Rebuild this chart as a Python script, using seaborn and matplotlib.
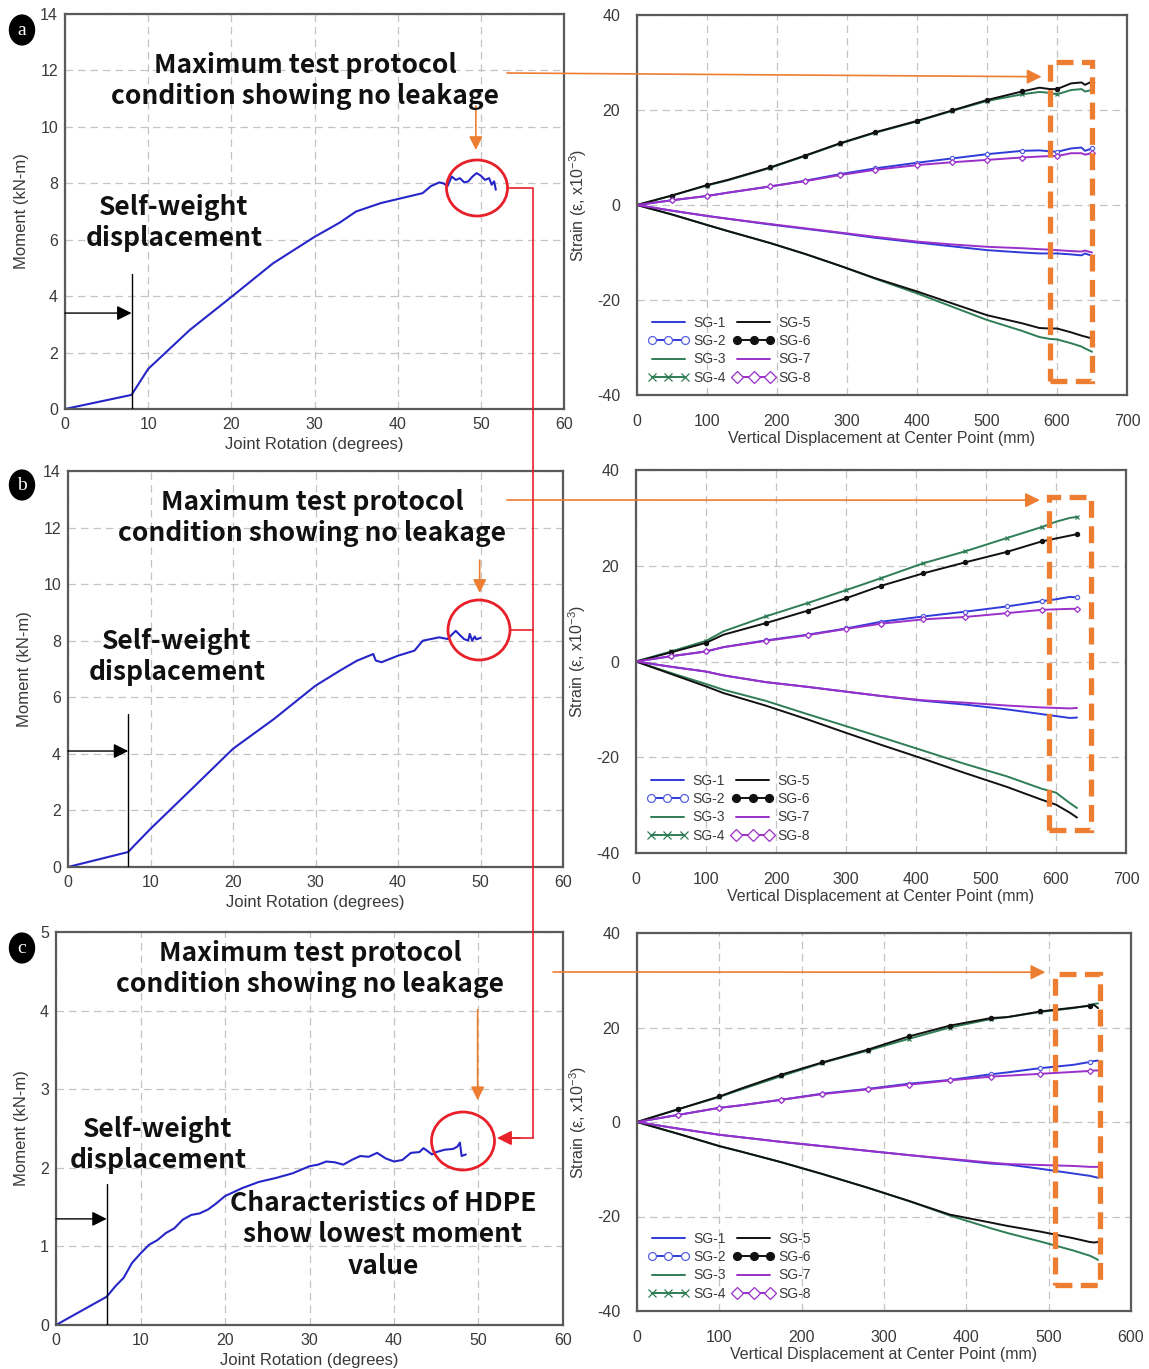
import numpy as np
import pandas as pd
import matplotlib
matplotlib.use("Agg")
import matplotlib.pyplot as plt
import seaborn as sns
from matplotlib.patches import Ellipse, Rectangle, Circle
from matplotlib.lines import Line2D
from matplotlib.ticker import MultipleLocator

# ------------------------------------------------------------------ data
# Left panels: moment vs joint rotation
A_ROT = [0, 8, 10, 15, 20, 25, 30, 33, 35, 38, 40, 43, 44, 45, 45.5, 46, 46.5, 47, 47.5, 48, 48.5, 49, 49.5, 50, 50.5, 51, 51.3, 51.6, 51.8]
A_MOM = [0, 0.5, 1.42, 2.8, 3.97, 5.16, 6.1, 6.6, 7.0, 7.3, 7.44, 7.65, 7.9, 8.03, 8.0, 7.9, 8.24, 8.12, 8.18, 8.03, 8.07, 8.24, 8.36, 8.27, 8.12, 8.18, 7.95, 8.07, 7.77]

B_ROT = [0, 7.3, 8, 10, 15, 20, 25, 30, 33, 35, 37, 37.3, 38, 40, 42, 43, 45, 46, 47, 47.5, 48, 48.5, 48.7, 49, 49.3, 49.5, 50]
B_MOM = [0, 0.53, 0.75, 1.35, 2.76, 4.18, 5.24, 6.41, 6.95, 7.29, 7.53, 7.3, 7.24, 7.47, 7.65, 8.0, 8.12, 8.06, 8.35, 8.2, 8.06, 8.0, 8.24, 8.0, 8.15, 8.05, 8.1]

C_ROT = [0, 6, 7, 8, 9, 10, 11, 12, 13, 14, 15, 16, 17, 18, 19, 20, 22, 24, 26, 28, 30, 31, 32, 33, 34, 35, 36, 37, 38, 39, 40, 41, 42, 43, 43.5, 44.5, 45, 46, 47, 47.5, 47.8, 48, 48.5]
C_MOM = [0, 0.36, 0.49, 0.6, 0.79, 0.91, 1.02, 1.08, 1.17, 1.23, 1.34, 1.4, 1.42, 1.47, 1.55, 1.64, 1.74, 1.82, 1.87, 1.93, 2.02, 2.04, 2.08, 2.07, 2.04, 2.1, 2.15, 2.14, 2.19, 2.12, 2.08, 2.1, 2.19, 2.2, 2.25, 2.17, 2.2, 2.23, 2.24, 2.27, 2.32, 2.15, 2.17]

# Right panels: strain vs vertical displacement
A_DISP = [0, 50, 100, 130, 190, 240, 290, 340, 400, 450, 500, 550, 575, 590, 600, 620, 635, 640, 650]
A_SG1 = [0, -1.2, -2.3, -2.9, -4.1, -5.0, -5.9, -6.9, -7.9, -8.7, -9.5, -10.0, -10.2, -10.2, -10.2, -10.4, -10.6, -10.2, -10.7]
A_SG2 = [0, 1.0, 1.9, 2.6, 3.9, 5.1, 6.5, 7.7, 8.9, 9.8, 10.7, 11.4, 11.5, 11.3, 11.2, 11.9, 12.1, 11.4, 11.9]
A_SG3 = [0, -2.0, -4.2, -5.5, -8.0, -10.3, -12.8, -15.5, -18.6, -21.4, -24.2, -26.5, -27.8, -28.2, -28.3, -29.1, -29.8, -30.2, -30.9]
A_SG4 = [0, 2.0, 4.1, 5.2, 7.8, 10.3, 12.9, 15.2, 17.6, 19.8, 21.9, 23.3, 23.8, 23.6, 23.3, 24.2, 24.4, 23.9, 24.2]
A_SG5 = [0, -2.0, -4.2, -5.5, -8.0, -10.3, -12.8, -15.4, -18.2, -20.7, -23.2, -24.9, -25.9, -26.0, -26.0, -26.8, -27.5, -27.7, -28.1]
A_SG6 = [0, 2.0, 4.2, 5.3, 7.9, 10.4, 13.0, 15.3, 17.7, 19.9, 22.1, 23.9, 24.7, 24.4, 24.4, 25.6, 25.8, 25.3, 26.0]
A_SG7 = [0, -1.2, -2.3, -2.9, -4.0, -4.9, -5.8, -6.7, -7.7, -8.3, -8.8, -9.1, -9.3, -9.4, -9.5, -9.7, -9.8, -9.6, -10.0]
A_SG8 = [0, 1.0, 1.9, 2.6, 3.9, 5.0, 6.3, 7.4, 8.4, 9.0, 9.5, 10.0, 10.2, 10.3, 10.3, 10.9, 10.9, 10.6, 10.9]

B_DISP = [0, 50, 100, 125, 185, 245, 300, 350, 410, 470, 530, 580, 600, 620, 630]
B_SG1 = [0, -1.1, -2.1, -2.9, -4.3, -5.3, -6.3, -7.2, -8.2, -9.0, -10.0, -11.0, -11.4, -11.8, -11.7]
B_SG2 = [0, 1.1, 2.1, 3.0, 4.4, 5.6, 6.9, 8.3, 9.4, 10.4, 11.5, 12.6, 13.0, 13.5, 13.4]
B_SG3 = [0, -2.4, -4.7, -5.9, -8.2, -11.0, -13.5, -15.8, -18.6, -21.4, -24.0, -26.6, -27.4, -29.6, -30.6]
B_SG4 = [0, 2.1, 4.3, 6.3, 9.4, 12.2, 14.9, 17.4, 20.5, 23.0, 25.8, 28.1, 29.2, 30.0, 30.2]
B_SG5 = [0, -2.6, -5.2, -6.6, -9.2, -12.1, -14.9, -17.4, -20.3, -23.3, -26.2, -28.9, -29.9, -31.6, -32.6]
B_SG6 = [0, 1.9, 3.9, 5.6, 8.0, 10.6, 13.2, 15.8, 18.4, 20.7, 22.9, 25.1, 25.7, 26.3, 26.6]
B_SG7 = [0, -1.1, -2.1, -2.9, -4.3, -5.3, -6.3, -7.2, -8.1, -8.6, -9.2, -9.6, -9.7, -9.8, -9.7]
B_SG8 = [0, 1.1, 2.1, 3.0, 4.3, 5.5, 6.8, 7.9, 8.8, 9.3, 10.1, 10.8, 10.9, 11.0, 11.0]

C_DISP = [0, 50, 100, 125, 175, 225, 280, 330, 380, 430, 450, 490, 530, 550, 555, 560]
C_SG1 = [0, -1.4, -2.7, -3.2, -4.2, -5.1, -6.1, -7.0, -7.9, -8.8, -9.0, -9.9, -10.9, -11.4, -11.6, -11.8]
C_SG2 = [0, 1.5, 3.0, 3.5, 4.7, 6.0, 7.0, 8.1, 8.9, 10.1, 10.5, 11.4, 12.1, 12.7, 12.9, 13.0]
C_SG3 = [0, -2.5, -5.1, -6.2, -8.5, -11.0, -13.9, -16.7, -19.8, -22.5, -23.5, -25.3, -27.2, -28.3, -28.7, -29.2]
C_SG4 = [0, 2.7, 5.3, 6.8, 9.7, 12.5, 15.1, 17.6, 20.0, 21.8, 22.2, 23.3, 24.1, 24.7, 25.0, 25.1]
C_SG5 = [0, -2.5, -5.1, -6.2, -8.5, -11.0, -13.9, -16.7, -19.6, -21.3, -22.0, -23.2, -24.6, -25.4, -25.5, -25.4]
C_SG6 = [0, 2.7, 5.4, 7.0, 10.0, 12.6, 15.3, 18.1, 20.4, 22.0, 22.2, 23.4, 24.2, 24.6, 24.8, 24.1]
C_SG7 = [0, -1.4, -2.7, -3.2, -4.2, -5.1, -6.1, -7.0, -7.8, -8.6, -8.9, -9.1, -9.3, -9.5, -9.5, -9.5]
C_SG8 = [0, 1.5, 3.0, 3.5, 4.7, 5.9, 6.9, 7.9, 8.8, 9.6, 9.8, 10.2, 10.6, 10.8, 10.9, 10.9]

SG_LABELS = ["SG-1", "SG-2", "SG-3", "SG-4", "SG-5", "SG-6", "SG-7", "SG-8"]

ANNOT_MAX = "Maximum test protocol\ncondition showing no leakage"
ANNOT_SELF = "Self-weight\ndisplacement"
ANNOT_HDPE = "Characteristics of HDPE\nshow lowest moment\nvalue"

# ------------------------------------------------------------------ style
sns.set_theme(style="white")
plt.rcParams["font.family"] = ["Liberation Sans", "DejaVu Sans"]
plt.rcParams["axes.unicode_minus"] = False
plt.rcParams["mathtext.fontset"] = "custom"
plt.rcParams["mathtext.rm"] = "Liberation Sans"
plt.rcParams["mathtext.it"] = "Liberation Sans:italic"

W, H = 1149, 1369
fig = plt.figure(figsize=(W / 100, H / 100), dpi=100)
fig.patch.set_facecolor("white")

TXT = "#3a3a3a"
SPINE = "#5a5a5a"
GRID = "#c4c4c4"
ORANGE = "#ED7D31"
RED = "#E8202A"
LBLUE = "#2626C8"
BLUE = "#2F3BD8"
GREEN = "#2E7D55"
BLACK = "#111111"
PURPLE = "#9A2FC9"
BOLD_FONT = ["Noto Sans CJK KR", "Noto Sans", "DejaVu Sans"]


def fx(px):
    return px / W


def fy(py):
    return 1 - py / H


def add_axes_px(left, top, right, bottom):
    return fig.add_axes([fx(left), fy(bottom), (right - left) / W, (bottom - top) / H])


def style_axes(ax, tick_dir):
    for s in ax.spines.values():
        s.set_color(SPINE)
        s.set_linewidth(1.6)
        s.set_visible(True)
    ax.tick_params(which="both", direction=tick_dir, colors=SPINE, labelcolor=TXT,
                   labelsize=11.5, width=1.0)
    ax.tick_params(which="major", length=6)
    ax.tick_params(which="minor", length=4)
    ax.grid(True, which="major", linestyle=(0, (6, 4)), color=GRID, linewidth=0.9)
    ax.set_axisbelow(True)
    ax.set_facecolor("white")


# ------------------------------------------------------------------ left panels
def moment_panel(box, rot, mom, ymax, ymajor, yminor, sw_x, sw_top, sw_arrow_y):
    ax = add_axes_px(*box)
    sns.lineplot(x=rot, y=mom, ax=ax, color=LBLUE, linewidth=1.5, sort=False, estimator=None)
    ax.set_xlim(0, 60)
    ax.set_ylim(0, ymax)
    ax.xaxis.set_major_locator(MultipleLocator(10))
    ax.xaxis.set_minor_locator(MultipleLocator(5))
    ax.yaxis.set_major_locator(MultipleLocator(ymajor))
    ax.yaxis.set_minor_locator(MultipleLocator(yminor))
    style_axes(ax, "in")
    ax.tick_params(axis="x", which="major", pad=6)
    ax.tick_params(axis="y", which="major", pad=5)
    ax.set_xlabel("Joint Rotation (degrees)", fontsize=12, color=TXT, labelpad=3)
    ax.set_ylabel("Moment (kN-m)", fontsize=12, color=TXT, labelpad=8)
    # self-weight marker
    ax.plot([sw_x, sw_x], [0, sw_top], color="black", lw=1.0, zorder=4)
    ax.annotate("", xy=(sw_x, sw_arrow_y), xytext=(0, sw_arrow_y),
                arrowprops=dict(arrowstyle="-|>", color="black", lw=1.0, mutation_scale=22,
                                shrinkA=0, shrinkB=0),
                zorder=5)
    return ax


axA = moment_panel((65, 14, 564, 409), A_ROT, A_MOM, 14, 2, 1, 8.0, 4.8, 3.4)
axB = moment_panel((68, 471, 563, 867), B_ROT, B_MOM, 14, 2, 1, 7.3, 5.4, 4.1)
axC = moment_panel((56, 932, 563, 1325), C_ROT, C_MOM, 5, 1, 0.5, 6.0, 1.8, 1.35)

# ------------------------------------------------------------------ right panels
SERIES_STYLE = [
    dict(color=BLUE, marker=None),
    dict(color=BLUE, marker="o", mfc="white", mec="#5560E0"),
    dict(color=GREEN, marker=None),
    dict(color=GREEN, marker="x", mec=GREEN),
    dict(color=BLACK, marker=None),
    dict(color=BLACK, marker="o", mfc=BLACK, mec=BLACK),
    dict(color=PURPLE, marker=None),
    dict(color=PURPLE, marker="D", mfc="white", mec=PURPLE),
]


def sparse_idx(xs, gap=45):
    idx, last = [], -1e9
    for i, v in enumerate(xs):
        if v - last >= gap and v > 0:
            idx.append(i)
            last = v
    return idx


def strain_panel(box, disp, series, xmax):
    ax = add_axes_px(*box)
    for lab, ys, st in zip(SG_LABELS, series, SERIES_STYLE):
        kw = dict(color=st["color"], linewidth=1.4, label=lab, sort=False, estimator=None)
        if st["marker"]:
            kw.update(marker=st["marker"], markersize=3.0, markevery=sparse_idx(disp),
                      markerfacecolor=st.get("mfc", st["color"]),
                      markeredgecolor=st.get("mec", st["color"]), markeredgewidth=0.9)
        sns.lineplot(x=disp, y=ys, ax=ax, **kw)
    ax.set_xlim(0, xmax)
    ax.set_ylim(-40, 40)
    ax.xaxis.set_major_locator(MultipleLocator(100))
    ax.yaxis.set_major_locator(MultipleLocator(20))
    ax.yaxis.set_minor_locator(MultipleLocator(10))
    style_axes(ax, "out")
    ax.tick_params(axis="x", which="major", pad=14, length=0)
    ax.tick_params(axis="y", which="major", pad=6)
    ax.set_xlabel("Vertical Displacement at Center Point (mm)", fontsize=11.5, color=TXT, labelpad=1)
    ax.set_ylabel("Strain (ε, x10$^{-3}$)", fontsize=11.5, color=TXT, labelpad=6)
    handles, labels = ax.get_legend_handles_labels()
    leg = ax.legend(handles, labels, loc="lower left", ncol=2, frameon=False, fontsize=10,
                    handlelength=3.0, handletextpad=0.3, columnspacing=0.5, labelspacing=0.3,
                    numpoints=3, borderaxespad=0.35, markerscale=1.9)
    for t in leg.get_texts():
        t.set_color(TXT)
    return ax


axAR = strain_panel((637, 15, 1127, 395), A_DISP,
                    [A_SG1, A_SG2, A_SG3, A_SG4, A_SG5, A_SG6, A_SG7, A_SG8], 700)
axBR = strain_panel((636, 470, 1126, 853), B_DISP,
                    [B_SG1, B_SG2, B_SG3, B_SG4, B_SG5, B_SG6, B_SG7, B_SG8], 700)
axCR = strain_panel((637, 933, 1131, 1311), C_DISP,
                    [C_SG1, C_SG2, C_SG3, C_SG4, C_SG5, C_SG6, C_SG7, C_SG8], 600)

# orange dashed boxes (data coordinates of the strain panels)
for ax, (x0, x1, y0, y1) in [(axAR, (590, 650, -37.0, 30.1)),
                             (axBR, (590, 650, -35.2, 34.4)),
                             (axCR, (508, 562, -34.5, 31.3))]:
    ax.add_patch(Rectangle((x0, y0), x1 - x0, y1 - y0, fill=False, edgecolor=ORANGE,
                           linewidth=3.8, linestyle=(0, (3.2, 1.6)), clip_on=False, zorder=6))

# ------------------------------------------------------------------ annotations
for (cx, cy), txt in [((305, 81), ANNOT_MAX), ((312, 518), ANNOT_MAX), ((310, 969), ANNOT_MAX)]:
    fig.text(fx(cx), fy(cy), txt, ha="center", va="center", fontsize=19, fontweight="bold",
             family=BOLD_FONT, color="#111111", linespacing=1.22)
for (cx, cy) in [(174, 223), (177, 657), (158, 1145)]:
    fig.text(fx(cx), fy(cy), ANNOT_SELF, ha="center", va="center", fontsize=19, fontweight="bold",
             family=BOLD_FONT, color="#111111", linespacing=1.18)
fig.text(fx(383), fy(1235), ANNOT_HDPE, ha="center", va="center", fontsize=19, fontweight="bold",
         family=BOLD_FONT, color="#111111", linespacing=1.2)

# orange arrows from text to strain boxes
for (sx, sy), ax, tip in [((507, 73), axAR, (578, 27.0)),
                          ((507, 500), axBR, (577, 33.7)),
                          ((553, 972), axCR, (496, 31.7))]:
    ax.annotate("", xy=tip, xycoords="data", xytext=(fx(sx), fy(sy)), textcoords="figure fraction",
                arrowprops=dict(arrowstyle="-|>", color=ORANGE, lw=1.2, mutation_scale=22,
                                shrinkA=0, shrinkB=0), annotation_clip=False, zorder=7)

# short orange down arrows in moment panels
for ax, x, y0, y1 in [(axA, 49.4, 10.74, 9.18), (axB, 49.9, 10.85, 9.69), (axC, 49.9, 4.01, 2.86)]:
    ax.annotate("", xy=(x, y1), xytext=(x, y0),
                arrowprops=dict(arrowstyle="-|>", color=ORANGE, lw=1.2, mutation_scale=20,
                                shrinkA=0, shrinkB=0), zorder=7)

# red circles
for (cx, cy, w, h) in [(477, 188, 61, 56), (479, 630, 62, 60), (463, 1141, 63, 58)]:
    fig.add_artist(Ellipse((fx(cx), fy(cy)), w / W, h / H, transform=fig.transFigure,
                           fill=False, edgecolor=RED, linewidth=2.0, zorder=8))

# red connector
fig.add_artist(Line2D([fx(508), fx(533), fx(533)], [fy(188), fy(188), fy(1138)],
                      transform=fig.transFigure, color=RED, lw=1.2, zorder=8))
fig.add_artist(Line2D([fx(510), fx(533)], [fy(630), fy(630)],
                      transform=fig.transFigure, color=RED, lw=1.2, zorder=8))
fig.add_artist(Line2D([fx(533), fx(512)], [fy(1138), fy(1138)],
                      transform=fig.transFigure, color=RED, lw=1.2, zorder=8))
axC.annotate("", xy=(fx(497), fy(1138)), xycoords="figure fraction",
             xytext=(fx(520), fy(1138)), textcoords="figure fraction",
             arrowprops=dict(arrowstyle="-|>", color=RED, lw=1.2, mutation_scale=22,
                             shrinkA=0, shrinkB=0), annotation_clip=False, zorder=9)

# panel letters
for (cx, cy), letter in [((22, 30), "a"), ((22, 485), "b"), ((22, 948), "c")]:
    fig.add_artist(Circle((fx(cx), fy(cy)), 12.5 / W, transform=fig.transFigure,
                          facecolor="black", edgecolor="black", zorder=9))
    fig.text(fx(cx), fy(cy) - 0.5 / H, letter, ha="center", va="center", color="white",
             fontsize=14, family=["Liberation Serif", "DejaVu Serif"], zorder=10)

fig.savefig("out.png", dpi=100, facecolor="white")
